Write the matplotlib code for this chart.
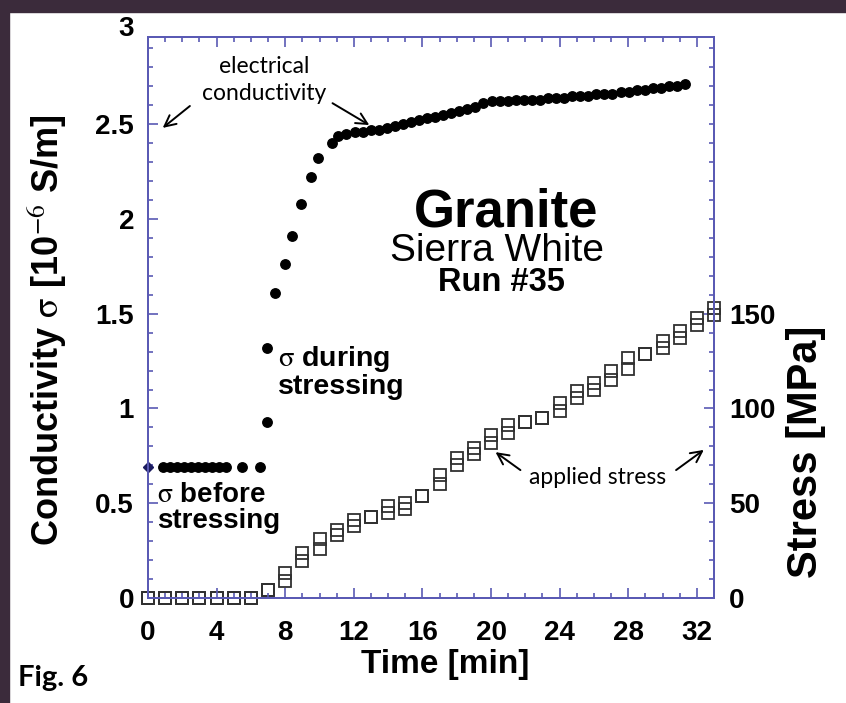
import matplotlib
matplotlib.use("Agg")
import matplotlib.pyplot as plt
from matplotlib.patches import Rectangle
from matplotlib.ticker import MultipleLocator, FixedLocator, FuncFormatter

plt.rcParams['mathtext.fontset'] = 'stix'

## Data
# conductivity before stressing [1e-6 S/m]
t_before = [0.0, 0.85, 1.26, 1.67, 2.08, 2.49, 2.90, 3.31, 3.72, 4.13, 4.55, 5.49, 6.53]
s_before = [0.69, 0.69, 0.69, 0.69, 0.69, 0.69, 0.69, 0.69, 0.69, 0.69, 0.69, 0.69, 0.69]
# conductivity during stressing (steep rise)
t_rise = [6.96, 6.96, 7.39, 7.97, 8.41, 8.93, 9.48, 9.92, 10.70]
s_rise = [0.93, 1.32, 1.61, 1.76, 1.91, 2.08, 2.22, 2.32, 2.40]
# conductivity plateau
t_plateau = [11.10, 11.57, 12.04, 12.51, 12.98, 13.45, 13.92, 14.39, 14.86, 15.33,
             15.80, 16.27, 16.74, 17.21, 17.68, 18.15, 18.62, 19.09, 19.56, 20.03,
             20.50, 20.97, 21.44, 21.91, 22.38, 22.85, 23.32, 23.79, 24.26, 24.73,
             25.20, 25.67, 26.14, 26.61, 27.08, 27.55, 28.02, 28.49, 28.96, 29.43,
             29.90, 30.37, 30.84, 31.31]
s_plateau = [2.44, 2.45, 2.46, 2.46, 2.47, 2.47, 2.48, 2.49, 2.50, 2.51,
             2.52, 2.53, 2.54, 2.55, 2.56, 2.57, 2.58, 2.59, 2.61, 2.62,
             2.62, 2.62, 2.63, 2.63, 2.63, 2.63, 2.64, 2.64, 2.64, 2.65,
             2.65, 2.65, 2.66, 2.66, 2.66, 2.67, 2.67, 2.68, 2.68, 2.69,
             2.69, 2.70, 2.70, 2.71]

# applied stress [MPa], two readings per minute where squares overlap
t_stress = [0, 1, 2, 3, 4, 5, 6, 7, 8, 9, 10, 11, 12, 13, 14, 15, 16, 17,
            18, 19, 20, 21, 22, 23, 24, 25, 26, 27, 28, 29, 30, 31, 32, 33]
stress_hi = [0, 0, 0, 0, 0, 0, 0, 4.4, 13, 24, 31, 36, 41, 43, 48.5, 50, 54, 65,
             74, 79, 86, 91.5, 93, 95, 103, 109, 113.5, 119.6, 126.6, 129, 135.5, 140.7, 147.8, 153]
stress_lo = [0, 0, 0, 0, 0, 0, 0, 4.4, 9, 19.5, 26, 33, 38, 43, 45, 47, 54, 60,
             70, 76, 82, 87, 93, 95, 98.5, 105.5, 110, 115, 121, 129, 132, 137, 144, 149.5]

spine_col = '#5a5ab4'
sans = ['Liberation Sans', 'DejaVu Sans']
note_font = ['Lato', 'DejaVu Sans']

fig = plt.figure(figsize=(8.46, 7.03), dpi=100)
fig.patch.set_facecolor('white')
# dark slide frame, top and left
fig.patches.append(Rectangle((0, 1 - 12 / 703.), 1, 12 / 703., transform=fig.transFigure,
                             color='#3b2b3b', zorder=0))
fig.patches.append(Rectangle((0, 0), 9 / 846., 1, transform=fig.transFigure,
                             color='#3b2b3b', zorder=0))

ax = fig.add_axes([148 / 846., 105 / 703., 566 / 846., 561 / 703.])
ax2 = ax.twinx()
ax.set_zorder(ax2.get_zorder() + 1)
ax.patch.set_visible(False)

# conductivity
ax.plot(t_before[1:], s_before[1:], 'o', color='black', ms=6.8, clip_on=False)
ax.plot(t_before[:1], s_before[:1], 'D', color='#1c1c60', ms=5, clip_on=False)
ax.plot(t_rise, s_rise, 'o', color='black', ms=6.8)
ax.plot(t_plateau, s_plateau, 'o', color='black', ms=6.8)

# stress
ax2.plot(t_stress, stress_lo, 's', mfc='none', mec='#303030', ms=8.8, mew=1.3, clip_on=False)
ax2.plot(t_stress, stress_hi, 's', mfc='none', mec='#303030', ms=8.8, mew=1.3, clip_on=False)

ax.set_xlim(0, 33)
ax.set_ylim(0, 2.96)
ax2.set_ylim(0, 296)

ax.xaxis.set_major_locator(MultipleLocator(4))
ax.xaxis.set_minor_locator(MultipleLocator(1))
ax.yaxis.set_major_locator(MultipleLocator(0.5))
ax.yaxis.set_minor_locator(MultipleLocator(0.1))
ax.yaxis.set_major_formatter(FuncFormatter(lambda v, p: '%g' % v))
ax2.yaxis.set_major_locator(FixedLocator([0, 50, 100, 150]))
ax2.yaxis.set_minor_locator(MultipleLocator(10))

for a in (ax, ax2):
    for s in a.spines.values():
        s.set_color(spine_col)
        s.set_linewidth(1.4)
ax.tick_params(which='both', direction='in', color=spine_col, top=True, right=False, width=1.2)
ax.tick_params(which='major', length=7)
ax.tick_params(which='minor', length=3.5)
ax.tick_params(axis='x', pad=16)
ax.tick_params(axis='y', pad=10)
ax2.tick_params(which='both', direction='in', color=spine_col, width=1.2)
ax2.tick_params(which='major', length=7, pad=11)
ax2.tick_params(which='minor', length=3.5)
for lab in ax.get_xticklabels() + ax.get_yticklabels() + ax2.get_yticklabels():
    lab.set_family(sans)
    lab.set_fontweight('bold')
    lab.set_fontsize(20)

ax.annotate('3', xy=(0, 3), xycoords='data', xytext=(-10, 0), textcoords='offset points',
            ha='right', va='center', fontsize=20, fontweight='bold', family=sans,
            annotation_clip=False)

# axis titles, placed where the original has them
fig.text(445 / 846., 1 - 665 / 703., 'Time [min]', ha='center', va='center',
         family=sans, fontsize=24, fontweight='bold')
fig.text(47 / 846., 1 - 330 / 703., r'Conductivity $\mathrm{\sigma}$ [10$^{-6}$ S/m]',
         rotation=90, ha='center', va='center', family=sans, fontsize=26, fontweight='bold')
fig.text(806 / 846., 1 - 452 / 703., 'Stress [MPa]', rotation=90, ha='center', va='center',
         family=sans, fontsize=30, fontweight='bold')

# labels inside the plot
ax.text(0.632, 0.688, 'Granite', transform=ax.transAxes, ha='center', va='center',
        family=sans, fontsize=38, fontweight='bold')
ax.text(0.616, 0.618, 'Sierra White', transform=ax.transAxes, ha='center', va='center',
        family=sans, fontsize=28)
ax.text(0.625, 0.563, 'Run #35', transform=ax.transAxes, ha='center', va='center',
        family=sans, fontsize=23.5, fontweight='bold')
ax.text(0.229, 0.403, '$\\mathrm{\\sigma}$ during\nstressing', transform=ax.transAxes,
        ha='left', va='center', family=sans, fontsize=20.5, fontweight='bold', linespacing=1.0)
ax.text(0.016, 0.160, '$\\mathrm{\\sigma}$ before\nstressing', transform=ax.transAxes,
        ha='left', va='center', family=sans, fontsize=20, fontweight='bold', linespacing=1.0)

ax.text(0.206, 0.923, 'electrical\nconductivity', transform=ax.transAxes, ha='center',
        va='center', family=note_font, fontsize=16.5, linespacing=1.35)
ax.text(0.795, 0.214, 'applied stress', transform=ax.transAxes, ha='center',
        va='center', family=note_font, fontsize=16.5)

arrow = dict(arrowstyle='->', color='black', lw=1.4, mutation_scale=20, shrinkA=0, shrinkB=0)
for tail, head in [((0.074, 0.877), (0.026, 0.838)),
                   ((0.326, 0.882), (0.391, 0.843)),
                   ((0.658, 0.228), (0.614, 0.260)),
                   ((0.933, 0.228), (0.982, 0.264))]:
    ax.annotate('', xy=head, xytext=tail, xycoords='axes fraction',
                textcoords='axes fraction', arrowprops=arrow)

fig.text(18 / 846., 1 - 678 / 703., 'Fig. 6', ha='left', va='center', family=note_font,
         fontsize=21, fontweight='bold')

fig.savefig('out.png', dpi=100)
